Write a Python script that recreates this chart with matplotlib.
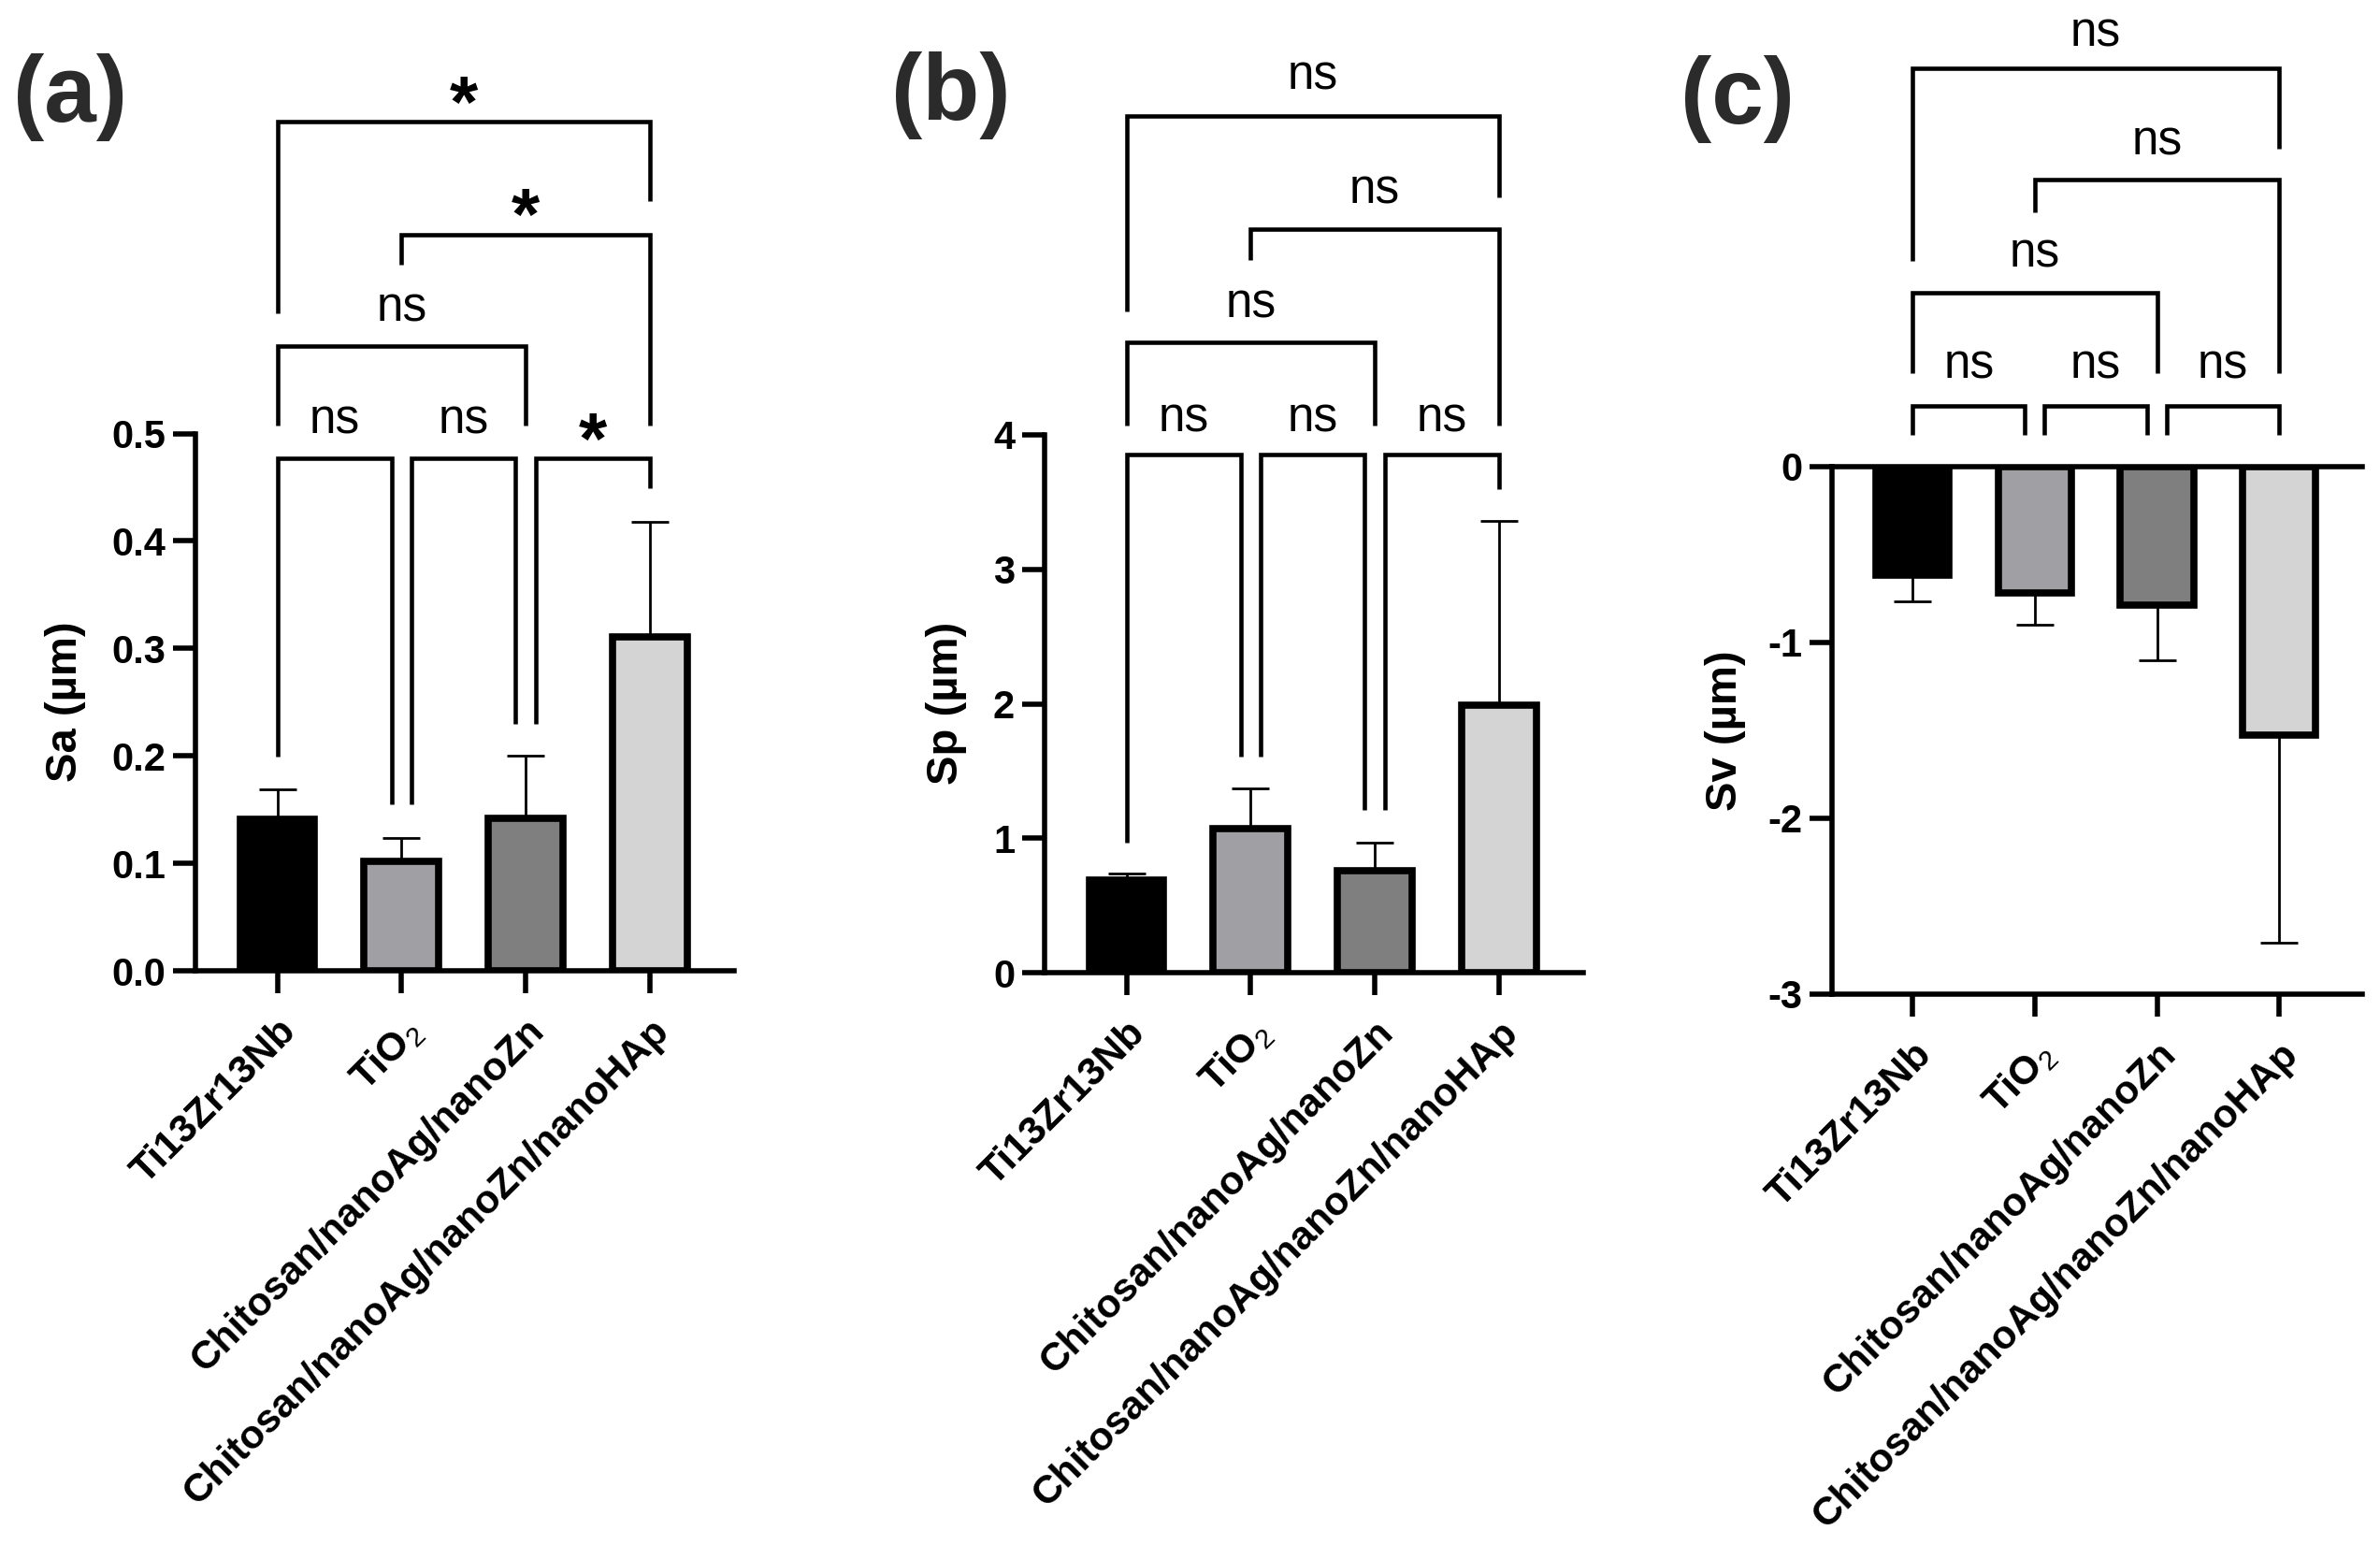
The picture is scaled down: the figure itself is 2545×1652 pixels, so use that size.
"""
Surface roughness (Sa, Sp, Sv) of the four coatings, with
pairwise comparison brackets in GraphPad style.
"""

import numpy as np
import matplotlib
matplotlib.use("Agg")
import matplotlib.pyplot as plt
from matplotlib.transforms import offset_copy

plt.rcParams["font.family"] = ["Liberation Sans", "DejaVu Sans"]
plt.rcParams["axes.unicode_minus"] = False
plt.rcParams["mathtext.fontset"] = "custom"
plt.rcParams["mathtext.rm"] = "Liberation Sans"

# ---- data ----
groups = ["Ti13Zr13Nb", r"TiO$_{\mathrm{2}}$", "Chitosan/nanoAg/nanoZn",
          "Chitosan/nanoAg/nanoZn/nanoHAp"]
bar_colors = ["#000000", "#a0a0a4", "#7f7f7f", "#d4d4d4"]

sa_mean = [0.141, 0.102, 0.142, 0.311]
sa_err = [0.028, 0.022, 0.058, 0.107]
sp_mean = [0.69, 1.07, 0.76, 1.99]
sp_err = [0.05, 0.30, 0.21, 1.37]
sv_mean = [-0.62, -0.72, -0.79, -1.53]
sv_err = [0.15, 0.18, 0.31, 1.18]

pairs = [(0, 1), (1, 2), (2, 3), (0, 2), (1, 3), (0, 3)]
sig_a = ["ns", "ns", "*", "ns", "*", "*"]
sig_b = ["ns", "ns", "ns", "ns", "ns", "ns"]
sig_c = ["ns", "ns", "ns", "ns", "ns", "ns"]

# bracket geometry (data units): top, left leg end, right leg end, label centre
br_a = dict(top=[0.477, 0.477, 0.477, 0.581, 0.685, 0.790],
            left=[0.199, 0.155, 0.230, 0.507, 0.657, 0.612],
            right=[0.155, 0.230, 0.449, 0.507, 0.507, 0.716],
            text=[0.512, 0.512, 0.511, 0.6165, 0.7196, 0.824])
br_b = dict(top=[3.853, 3.853, 3.853, 4.687, 5.53, 6.37],
            left=[0.967, 1.605, 1.21, 4.07, 5.30, 4.92],
            right=[1.605, 1.21, 3.60, 4.07, 4.07, 5.77],
            text=[4.12, 4.12, 4.12, 4.967, 5.816, 6.66])
br_c = dict(top=[0.345, 0.345, 0.345, 0.989, 1.629, 2.262],
            left=[0.176, 0.176, 0.176, 0.532, 1.442, 1.169],
            right=[0.176, 0.176, 0.176, 0.532, 0.532, 1.805],
            text=[0.569, 0.569, 0.569, 1.206, 1.843, 2.46])

W, H = 2545, 1652
fig = plt.figure(figsize=(W / 100, H / 100), dpi=100)


def px_axes(x0, x1, y_top, y_bot):
    return fig.add_axes([x0 / W, 1 - y_bot / H, (x1 - x0) / W, (y_bot - y_top) / H])


LW_AX = 4.0
x = np.arange(len(groups))


def draw_panel(ax, mean, err, sig, br, ylim, yticks, yfmt, negative=False):
    zeros = np.zeros(len(err))
    yerr = [err, zeros] if negative else [zeros, err]
    ax.errorbar(x, mean, yerr=yerr, fmt="none", ecolor="black",
                elinewidth=2.0, capsize=14.5, capthick=2.0, zorder=1)
    ax.bar(x, mean, width=0.6, color=bar_colors, edgecolor="black",
           linewidth=5.5, zorder=2)

    ax.set_xlim(-0.66, 3.68)
    ax.set_ylim(*ylim)
    ax.set_yticks(yticks, [yfmt.format(v) for v in yticks],
                  fontsize=30, fontweight="bold")
    ax.set_xticks(x, groups, rotation=45, ha="right", va="top",
                  rotation_mode="anchor", fontsize=30.5, fontweight="bold")
    ax.tick_params(axis="both", length=17, width=LW_AX, direction="out")
    ax.tick_params(axis="y", pad=6)
    ax.tick_params(axis="x", pad=15)

    for side in ["left", "bottom", "top", "right"]:
        ax.spines[side].set_linewidth(LW_AX)
    ax.spines["right"].set_visible(False)
    ax.spines["top"].set_visible(negative)

    # comparison brackets
    inset = 0.08
    for k, (i, j) in enumerate(pairs):
        xl, xr = float(i), float(j)
        if j - i == 1:
            if i > 0:
                xl += inset
            if j < len(groups) - 1:
                xr -= inset
        ax.plot([xl, xl, xr, xr], [br["left"][k], br["top"][k], br["top"][k], br["right"][k]],
                color="black", lw=3.3, clip_on=False, solid_joinstyle="miter",
                solid_capstyle="butt", zorder=3)
        label = sig[k]
        if label == "*":
            fs, dy, weight = 56, -0.58 * 56, "bold"
        else:
            fs, dy, weight = 37, -0.26 * 37, "normal"
        tr = offset_copy(ax.transData, fig=fig, y=dy, units="points")
        ax.text((xl + xr) / 2, br["text"][k], label, transform=tr, ha="center",
                va="baseline", fontsize=fs, fontweight=weight, clip_on=False)


ax_a = px_axes(209, 785, 463.5, 1038)
draw_panel(ax_a, sa_mean, sa_err, sig_a, br_a, (0, 0.5),
           [0.0, 0.1, 0.2, 0.3, 0.4, 0.5], "{:.1f}")

ax_b = px_axes(1117, 1693, 465, 1040)
draw_panel(ax_b, sp_mean, sp_err, sig_b, br_b, (0, 4),
           [0, 1, 2, 3, 4], "{:d}")

ax_c = px_axes(1959, 2526, 498.6, 1063)
draw_panel(ax_c, sv_mean, sv_err, sig_c, br_c, (-3, 0),
           [0, -1, -2, -3], "{:d}", negative=True)

# axis titles and panel letters
for (xc, yc, txt) in [(70, 750, "Sa (µm)"), (1012, 752, "Sp (µm)"), (1845, 781, "Sv (µm)")]:
    fig.text(xc / W, 1 - yc / H, txt, rotation=90, ha="center", va="center",
             fontsize=34, fontweight="bold")

for (xc, yc, txt) in [(75, 104, "(a)"), (1017, 102, "(b)"), (1858, 106, "(c)")]:
    fig.text(xc / W, 1 - yc / H, txt, ha="center", va="center",
             fontsize=72, fontweight="bold", color="#2b2b2b")

fig.savefig("out.png", dpi=100)
